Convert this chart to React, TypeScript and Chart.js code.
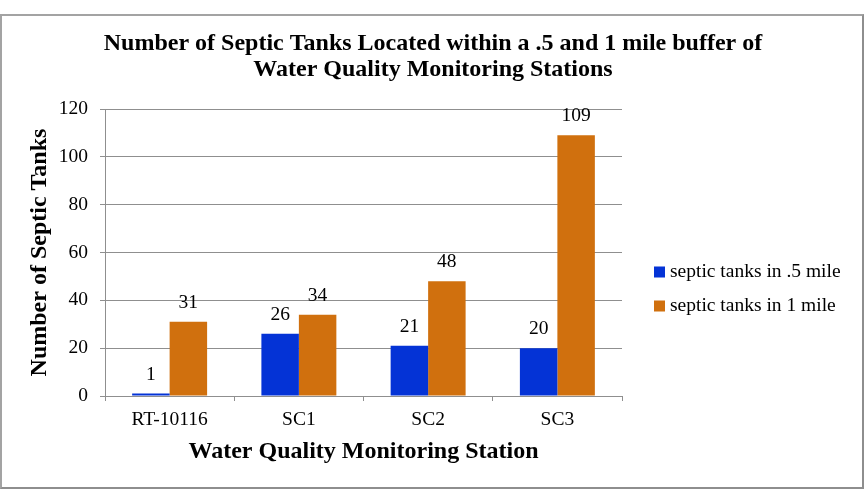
import React, { useEffect, useRef } from "react";
import { Chart, registerables } from "chart.js";

Chart.register(...registerables);

// Chart content
const stations = ["RT-10116", "SC1", "SC2", "SC3"];
const halfMileCounts = [1, 26, 21, 20];
const oneMileCounts = [31, 34, 48, 109];
const seriesNames = ["septic tanks in .5 mile", "septic tanks in 1 mile"];
const titleLines = [
  "Number of Septic Tanks Located within a .5 and 1 mile buffer of",
  "Water Quality Monitoring Stations",
];
const yAxisTitle = "Number of Septic Tanks";
const xAxisTitle = "Water Quality Monitoring Station";
const yMin = 0;
const yMax = 120;
const yStep = 20;

const SERIF = "'Liberation Serif', 'Times New Roman', Times, serif";
const BLUE = "#0433D6";
const ORANGE = "#D0700E";
const GRID = "#8f8f8f";

// Writes each bar's value just above it
const valueLabels = {
  id: "valueLabels",
  afterDatasetsDraw(chart: any) {
    const ctx = chart.ctx;
    ctx.save();
    ctx.font = `19.5px ${SERIF}`;
    ctx.fillStyle = "#000";
    ctx.textAlign = "center";
    ctx.textBaseline = "middle";
    chart.data.datasets.forEach((ds: any, i: number) => {
      const meta = chart.getDatasetMeta(i);
      meta.data.forEach((bar: any, j: number) => {
        ctx.fillText(String(ds.data[j]), bar.x, bar.y - 19);
      });
    });
    ctx.restore();
  },
};

// Legend to the right of the plot area
const sideLegend = {
  id: "sideLegend",
  afterDraw(chart: any) {
    const ctx = chart.ctx;
    const area = chart.chartArea;
    const x = area.right + 32;
    let y = area.top + 162.5;
    ctx.save();
    ctx.font = `19.5px ${SERIF}`;
    ctx.textAlign = "left";
    ctx.textBaseline = "middle";
    chart.data.datasets.forEach((ds: any) => {
      ctx.fillStyle = ds.backgroundColor;
      ctx.fillRect(x, y - 5, 11, 11);
      ctx.fillStyle = "#000";
      ctx.fillText(ds.label, x + 16, y);
      y += 34;
    });
    ctx.restore();
  },
};

function SepticChart() {
  const canvasRef = useRef<HTMLCanvasElement | null>(null);

  useEffect(() => {
    const canvas = canvasRef.current;
    if (!canvas) return;
    const chart = new Chart(canvas, {
      type: "bar",
      data: {
        labels: stations,
        datasets: [
          {
            label: seriesNames[0],
            data: halfMileCounts,
            backgroundColor: BLUE,
            categoryPercentage: 0.58,
            barPercentage: 1.0,
          },
          {
            label: seriesNames[1],
            data: oneMileCounts,
            backgroundColor: ORANGE,
            categoryPercentage: 0.58,
            barPercentage: 1.0,
          },
        ],
      },
      options: {
        responsive: false,
        animation: false,
        devicePixelRatio: 1,
        layout: { padding: 0 },
        plugins: {
          legend: { display: false },
          tooltip: { enabled: false },
          title: {
            display: true,
            text: titleLines,
            color: "#000",
            font: { family: SERIF, size: 24, weight: "bold", lineHeight: 26 / 24 },
            padding: { top: 31, bottom: 26 },
          },
        },
        scales: {
          x: {
            grid: {
              display: true,
              drawOnChartArea: false,
              drawTicks: true,
              tickLength: 5,
              color: GRID,
            },
            border: { display: true, color: GRID },
            ticks: {
              color: "#000",
              font: { family: SERIF, size: 19.5 },
              padding: 7,
            },
            title: {
              display: true,
              text: xAxisTitle,
              color: "#000",
              font: { family: SERIF, size: 24, weight: "bold", lineHeight: 1.2 },
              padding: { top: 0, bottom: 30 },
            },
            afterFit(scale: any) {
              scale.height = 100;
            },
          },
          y: {
            min: yMin,
            max: yMax,
            ticks: {
              stepSize: yStep,
              color: "#000",
              font: { family: SERIF, size: 19.5 },
              padding: 12,
            },
            grid: { color: GRID, tickLength: 5 },
            border: { display: true, color: GRID },
            title: {
              display: true,
              text: yAxisTitle,
              color: "#000",
              font: { family: SERIF, size: 24, weight: "bold", lineHeight: 1.2 },
              padding: { top: 25, bottom: 0 },
            },
            afterFit(scale: any) {
              scale.width = 105;
            },
          },
          // empty right-hand axis reserving the space the legend sits in
          side: {
            type: "linear",
            position: "right",
            display: true,
            grid: { display: false, drawTicks: false },
            border: { display: false },
            ticks: { display: false },
            afterFit(scale: any) {
              scale.width = 244;
            },
          },
        },
      } as any,
      plugins: [valueLabels, sideLegend],
    });
    return () => chart.destroy();
  }, []);

  return (
    <div style={{ position: "absolute", left: 0, top: 0, width: 866, height: 496, background: "#fff" }}>
      <div
        style={{
          position: "absolute",
          left: 0,
          top: 14,
          width: 860,
          height: 471,
          borderTop: "2px solid #a3a3a3",
          borderLeft: "2px solid #a3a3a3",
          borderRight: "2px solid #8e8e8e",
          borderBottom: "2px solid #8e8e8e",
        }}
      />
      <canvas
        ref={canvasRef}
        width={866}
        height={496}
        style={{ position: "absolute", left: 0, top: 0, width: 866, height: 496 }}
      />
    </div>
  );
}

export default function App() {
  return <SepticChart />;
}
